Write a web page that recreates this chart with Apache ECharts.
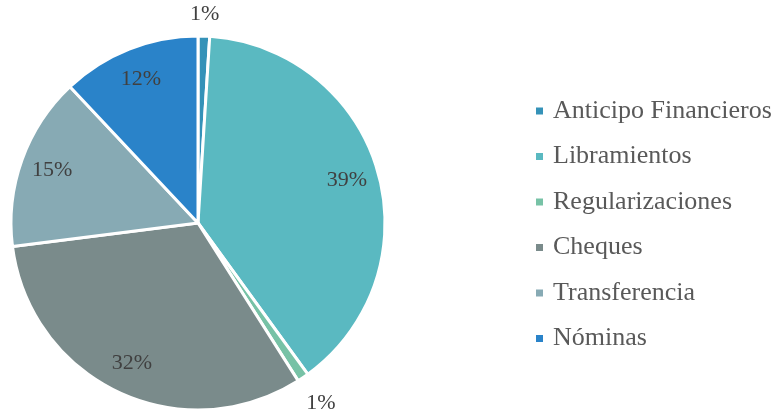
<!DOCTYPE html>
<html>
<head>
<meta charset="utf-8">
<script src="https://cdn.jsdelivr.net/npm/echarts@6/dist/echarts.min.js"></script>
<style>
  html, body { margin: 0; padding: 0; background: #fff; }
  #chart { width: 778px; height: 410px; }
</style>
</head>
<body>
<div id="chart"></div>
<script>
const categories = ["Anticipo Financieros", "Libramientos", "Regularizaciones", "Cheques", "Transferencia", "Nóminas"];
const values = [1, 39, 1, 32, 15, 12];
const colors = ["#3592b8", "#5ab9c1", "#77c2a6", "#7a8b8b", "#87aab4", "#2a83c9"];

const chart = echarts.init(document.getElementById("chart"));

const labelFont = {
  formatter: "{c}%",
  position: "inside",
  fontFamily: "Liberation Serif",
  fontSize: 22,
  color: "#404040",
};

// transparent rings that only carry labels, so each label sits at the ring's middle
const labelRing = (radius, showIdx) => ({
  type: "pie",
  center: [198, 223],
  radius,
  startAngle: 90,
  clockwise: true,
  silent: true,
  legendHoverLink: false,
  itemStyle: { color: "transparent" },
  label: labelFont,
  labelLine: { show: false },
  data: categories.map((name, i) => ({
    name,
    value: values[i],
    label: { show: showIdx(i) },
  })),
});

const option = {
  animation: false,
  legend: {
    orient: "vertical",
    left: 534,
    top: 97,
    padding: 0,
    icon: "rect",
    itemWidth: 9,
    itemHeight: 9,
    itemGap: 17.5,
    data: categories,
    textStyle: {
      fontFamily: "Liberation Serif",
      fontSize: 26,
      lineHeight: 28,
      color: "#595959",
      padding: [0, 0, 0, 4],
    },
  },
  series: [
    {
      type: "pie",
      center: [198, 223],
      radius: [0, 187],
      startAngle: 90,
      clockwise: true,
      label: { show: false },
      labelLine: { show: false },
      itemStyle: { borderColor: "#fff", borderWidth: 3 },
      emphasis: { disabled: true },
      data: categories.map((name, i) => ({
        name,
        value: values[i],
        itemStyle: { color: colors[i] },
      })),
    },
    labelRing([117, 187], (i) => values[i] >= 5),
    labelRing([187, 225], (i) => i === 0),
    labelRing([187, 244], (i) => i === 2),
  ],
};

chart.setOption(option);
</script>
</body>
</html>
